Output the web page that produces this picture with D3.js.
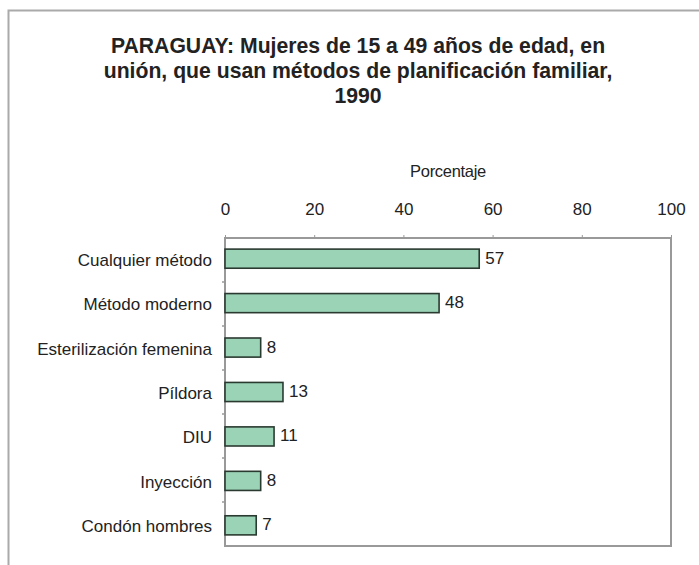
<!DOCTYPE html>
<html>
<head>
<meta charset="utf-8">
<script src="https://cdn.jsdelivr.net/npm/d3@7"></script>
<style>
  body { margin: 0; background: #fff; }
  text { font-family: "Liberation Sans", Arial, sans-serif; fill: #222; }
</style>
</head>
<body>
<svg id="chart" width="699" height="565"></svg>
<script>
// Data
var categories = ["Cualquier método", "Método moderno", "Esterilización femenina",
  "Píldora", "DIU", "Inyección", "Condón hombres"];
var values = [57, 48, 8, 13, 11, 8, 7];
var tickValues = [0, 20, 40, 60, 80, 100];
var titleLines = ["PARAGUAY: Mujeres de 15 a 49 años de edad, en",
  "unión, que usan métodos de planificación familiar,",
  "1990"];
var axisTitle = "Porcentaje";

var svg = d3.select("#chart");

// outer frame (only top and left edges show in the picture)
svg.append("path")
  .attr("d", "M8.5,565 V10.5 H699")
  .attr("fill", "none")
  .attr("stroke", "#aaa")
  .attr("stroke-width", 2);

// title
svg.append("text")
  .attr("text-anchor", "middle")
  .style("font-weight", "bold")
  .style("font-size", "21.2px")
  .selectAll("tspan")
  .data(titleLines)
  .enter().append("tspan")
    .attr("x", 358)
    .attr("y", function (d, i) { return 53 + i * 25; })
    .text(function (d) { return d; });

var margin = { left: 225, right: 671, top: 238, bottom: 546 };

var x = d3.scaleLinear()
  .domain([0, 100])
  .range([margin.left, margin.right]);

var y = d3.scaleBand()
  .domain(categories)
  .range([margin.top, margin.bottom])
  .paddingInner(0.57)
  .paddingOuter(0.25);

// plot frame
svg.append("rect")
  .attr("x", margin.left)
  .attr("y", margin.top)
  .attr("width", margin.right - margin.left)
  .attr("height", margin.bottom - margin.top)
  .attr("fill", "none")
  .attr("stroke", "#999")
  .attr("stroke-width", 2);

// top axis
var xAxis = svg.append("g")
  .attr("transform", "translate(0," + margin.top + ")")
  .call(d3.axisTop(x).tickValues(tickValues).tickSize(3).tickPadding(20));
xAxis.select(".domain").remove();
xAxis.selectAll(".tick line").attr("stroke", "#999");
xAxis.selectAll(".tick text")
  .style("font-size", "17px")
  .style("font-family", "'Liberation Sans', Arial, sans-serif")
  .attr("fill", "#222");

svg.append("text")
  .attr("x", x(50))
  .attr("y", 177)
  .attr("text-anchor", "middle")
  .style("font-size", "16.5px")
  .style("letter-spacing", "-0.3px")
  .text(axisTitle);

// left category ticks at band boundaries
var boundaries = d3.range(1, categories.length).map(function (i) {
  return margin.top + (margin.bottom - margin.top) * i / categories.length;
});
svg.append("g").selectAll("line")
  .data(boundaries)
  .enter().append("line")
    .attr("x1", margin.left - 3)
    .attr("x2", margin.left)
    .attr("y1", function (d) { return d; })
    .attr("y2", function (d) { return d; })
    .attr("stroke", "#999")
    .attr("stroke-width", 1.5);

// category labels
svg.append("g").selectAll("text")
  .data(categories)
  .enter().append("text")
    .attr("x", 212)
    .attr("y", function (d) { return y(d) + y.bandwidth() / 2 + 1; })
    .attr("dy", "0.35em")
    .attr("text-anchor", "end")
    .style("font-size", "17px")
    .text(function (d) { return d; });

// bars
svg.append("g").selectAll("rect")
  .data(values)
  .enter().append("rect")
    .attr("x", x(0))
    .attr("y", function (d, i) { return y(categories[i]); })
    .attr("width", function (d) { return x(d) - x(0); })
    .attr("height", y.bandwidth())
    .attr("fill", "#9ad3b6")
    .attr("stroke", "#2b3a31")
    .attr("stroke-width", 1.6);

// value labels
svg.append("g").selectAll("text")
  .data(values)
  .enter().append("text")
    .attr("x", function (d) { return x(d) + 6; })
    .attr("y", function (d, i) { return y(categories[i]) + y.bandwidth() / 2 - 1; })
    .attr("dy", "0.35em")
    .style("font-size", "17px")
    .text(function (d) { return d; });
</script>
</body>
</html>
